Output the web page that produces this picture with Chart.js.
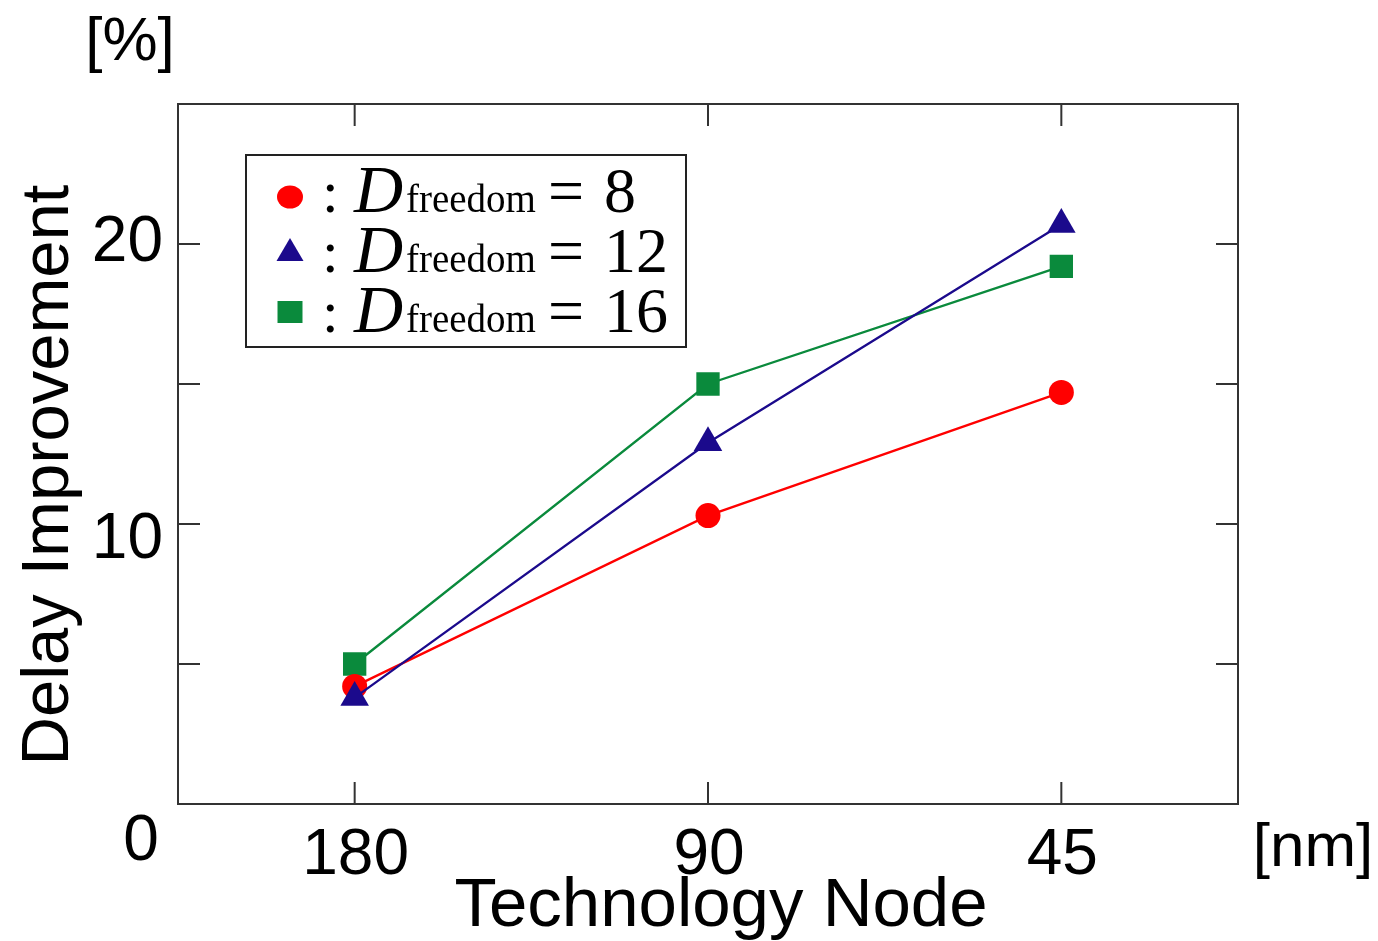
<!DOCTYPE html>
<html>
<head>
<meta charset="utf-8">
<script src="https://cdn.jsdelivr.net/npm/chart.js@4/dist/chart.umd.min.js"></script>
<style>
  html, body { margin: 0; padding: 0; background: #fff; }
  #wrap { width: 1378px; height: 941px; }
</style>
</head>
<body>
<div id="wrap"><canvas id="chart" width="1378" height="941"></canvas></div>
<script>
// values
const nodeLabels = ['180', '90', '45'];
const dFreedom = [8, 12, 16];
const delayD8 = [4.2, 10.3, 14.7];
const delayD12 = [3.8, 12.9, 20.7];
const delayD16 = [5.0, 15.0, 19.2];
const yTickValues = [5, 10, 15, 20];
const yLabelValues = [0, 10, 20];

const RED = '#ff0000';
const BLUE = '#1b0a8c';
const GREEN = '#0a8a3c';
const SANS = '"Liberation Sans", Arial, sans-serif';
const SERIF = '"Liberation Serif", "Times New Roman", serif';

function marker(ctx, style, x, y, color) {
    ctx.save();
    ctx.fillStyle = color;
    ctx.beginPath();
    if (style === 'circle') {
        ctx.ellipse(x, y, 13, 11.5, 0, 0, Math.PI * 2);
    } else if (style === 'triangle') {
        ctx.moveTo(x, y - 15);
        ctx.lineTo(x + 13.5, y + 8);
        ctx.lineTo(x - 13.5, y + 8);
        ctx.closePath();
    } else {
        ctx.rect(x - 12.5, y - 11, 25, 22);
    }
    ctx.fill();
    ctx.restore();
}

const framePlugin = {
    id: 'frame',
    afterDraw: (chart) => {
        const { ctx, chartArea } = chart;
        const xs = chart.scales.x;
        const ys = chart.scales.y;
        const { left, right, top, bottom } = chartArea;
        const tick = 22;

        ctx.save();
        ctx.strokeStyle = '#333';
        ctx.lineWidth = 2;
        ctx.strokeRect(left, top, right - left, bottom - top);

        ctx.beginPath();
        nodeLabels.forEach((lab, i) => {
            const x = xs.getPixelForValue(i);
            ctx.moveTo(x, bottom);
            ctx.lineTo(x, bottom - tick);
            ctx.moveTo(x, top);
            ctx.lineTo(x, top + tick);
        });
        yTickValues.forEach((v) => {
            const y = ys.getPixelForValue(v);
            ctx.moveTo(left, y);
            ctx.lineTo(left + tick, y);
            ctx.moveTo(right, y);
            ctx.lineTo(right - tick, y);
        });
        ctx.stroke();

        // tick labels
        ctx.fillStyle = '#000';
        ctx.font = '64px ' + SANS;
        ctx.textBaseline = 'alphabetic';
        ctx.textAlign = 'center';
        nodeLabels.forEach((lab, i) => {
            ctx.fillText(lab, xs.getPixelForValue(i) + 1, bottom + 70);
        });
        const yLabelShift = { 0: 56, 10: 34, 20: 17 };
        yLabelValues.forEach((v) => {
            const y = ys.getPixelForValue(v) + yLabelShift[v];
            if (v === 0) {
                ctx.textAlign = 'center';
                ctx.fillText(String(v), 141, y);
            } else {
                ctx.textAlign = 'right';
                ctx.fillText(String(v), 163, y);
            }
        });

        // axis titles and units
        ctx.textAlign = 'center';
        ctx.font = '69px ' + SANS;
        ctx.fillText('Technology Node', 721, 926);
        ctx.font = '62px ' + SANS;
        ctx.fillText('[%]', 130, 60);
        ctx.fillText('[nm]', 1313, 866);

        ctx.save();
        ctx.translate(68, 475);
        ctx.rotate(-Math.PI / 2);
        ctx.font = '67px ' + SANS;
        ctx.fillText('Delay Improvement', 0, 0);
        ctx.restore();

        // legend box
        ctx.fillStyle = '#fff';
        ctx.fillRect(246, 155, 440, 192);
        ctx.strokeStyle = '#222';
        ctx.lineWidth = 2;
        ctx.strokeRect(246, 155, 440, 192);

        const styles = ['circle', 'triangle', 'rect'];
        const colors = [RED, BLUE, GREEN];
        const markerY = [197, 253, 312];
        const baseY = [212, 272, 332];
        dFreedom.forEach((d, i) => {
            marker(ctx, styles[i], 290, markerY[i], colors[i]);
            ctx.fillStyle = '#000';
            ctx.textAlign = 'left';
            ctx.font = '60px ' + SERIF;
            ctx.fillText(':', 322, baseY[i]);
            ctx.font = 'italic 68px ' + SERIF;
            ctx.fillText('D', 354, baseY[i]);
            ctx.font = '39px ' + SERIF;
            ctx.fillText('freedom', 406, baseY[i]);
            ctx.font = '64px ' + SERIF;
            ctx.fillText('=', 548, baseY[i]);
            ctx.fillText(String(d), 604, baseY[i]);
        });
        ctx.restore();
    },
};

const ctx = document.getElementById('chart').getContext('2d');
new Chart(ctx, {
    type: 'line',
    data: {
        labels: nodeLabels,
        datasets: [
            {
                label: 'Dfreedom = ' + dFreedom[0],
                data: delayD8,
                borderColor: RED,
                backgroundColor: RED,
                borderWidth: 2.3,
                pointStyle: 'circle',
                pointRadius: 12.5,
                pointBorderWidth: 0,
                order: 1,
            },
            {
                label: 'Dfreedom = ' + dFreedom[1],
                data: delayD12,
                borderColor: BLUE,
                backgroundColor: BLUE,
                borderWidth: 2.3,
                pointStyle: 'triangle',
                pointRadius: 16.5,
                pointBorderWidth: 0,
                order: 0,
            },
            {
                label: 'Dfreedom = ' + dFreedom[2],
                data: delayD16,
                borderColor: GREEN,
                backgroundColor: GREEN,
                borderWidth: 2.3,
                pointStyle: 'rect',
                pointRadius: 16.5,
                pointBorderWidth: 0,
                order: 2,
            },
        ],
    },
    options: {
        responsive: false,
        devicePixelRatio: 1,
        animation: false,
        layout: { padding: { left: 178, top: 104, right: 140, bottom: 137 } },
        scales: {
            x: { type: 'category', offset: true, display: false },
            y: { type: 'linear', min: 0, max: 25, display: false },
        },
        plugins: {
            legend: { display: false },
            tooltip: { enabled: false },
        },
    },
    plugins: [framePlugin],
});
</script>
</body>
</html>
